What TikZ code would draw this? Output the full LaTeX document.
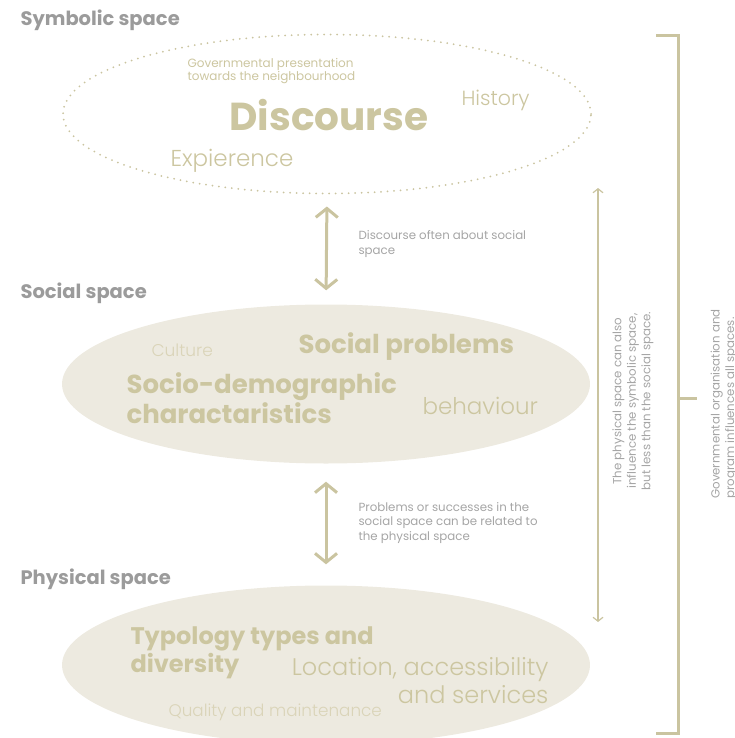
\documentclass[tikz,border=0pt]{standalone}
\usepackage{fontspec}
\setmainfont{Poppins}
\newfontfamily\thinfont{Poppins Light}
\usetikzlibrary{shapes.geometric,arrows.meta}
\definecolor{spacegray}{RGB}{155,155,155}
\definecolor{notegray}{RGB}{165,165,165}
\definecolor{sand}{RGB}{204,198,160}
\definecolor{palesand}{RGB}{218,212,184}
\definecolor{shell}{RGB}{237,234,224}
\definecolor{rope}{RGB}{202,196,160}
\tikzset{
  spacelabel/.style={anchor=west, text=spacegray, font=\bfseries\fontsize{19.5}{22}\selectfont},
  blob/.style={ellipse, inner sep=0pt, minimum width=528pt, minimum height=159pt},
  note/.style={anchor=west, align=left, text=notegray, font=\fontsize{11.8}{14.5}\selectfont},
  keyword/.style={anchor=west, align=left, text=sand, font=\bfseries\fontsize{26}{30}\selectfont},
  minor/.style={anchor=west, align=left, text=sand, font=\thinfont\fontsize{23}{28}\selectfont},
  link/.style={draw=rope, line width=3pt, {Straight Barb[length=9pt,width=22pt]}-{Straight Barb[length=9pt,width=22pt]}},
  thinlink/.style={draw=rope, line width=1.2pt, {Straight Barb[length=4pt,width=10pt]}-{Straight Barb[length=4pt,width=10pt]}}
}
\begin{document}
\begin{tikzpicture}[x=1pt,y=1pt]
\useasboundingbox (0,0) rectangle (734,-738);
% symbolic space
\node[spacelabel] (symlbl) at (17,-20) {Symbolic space};
\node[blob, draw=rope, line width=2pt, line cap=round, dash pattern=on 0pt off 6.5pt] (sym) at (327,-114) {};
\node[note, text=sand, font=\fontsize{12}{13.5}\selectfont] (gov) at (184,-71) {Governmental presentation\\towards the neighbourhood};
\node[keyword, font=\bfseries\fontsize{39}{40}\selectfont] (disc) at (226,-115) {Discourse};
\node[minor, font=\thinfont\fontsize{20.5}{22}\selectfont] (hist) at (458,-100) {History};
\node[minor] (exp) at (167,-161) {Expierence};
% social space
\node[spacelabel] (soclbl) at (17,-293) {Social space};
\node[blob, fill=shell] (soc) at (326,-384) {};
\node[minor, text=palesand, font=\thinfont\fontsize{17}{18}\selectfont] (cult) at (148,-350) {Culture};
\node[keyword] (prob) at (295,-347) {Social problems};
\node[keyword] (demo) at (123,-398) {Socio-demographic\\charactaristics};
\node[minor] (behav) at (419,-406) {behaviour};
% physical space
\node[spacelabel] (phylbl) at (17,-579) {Physical space};
\node[blob, fill=shell] (phy) at (326,-665) {};
\node[keyword, font=\bfseries\fontsize{24}{28}\selectfont] (typo) at (127,-653) {Typology types and\\diversity};
\node[minor, align=right, anchor=east, font=\thinfont\fontsize{24}{28}\selectfont] (loc) at (552,-681) {Location, accessibility\\and services};
\node[minor, text=palesand, font=\thinfont\fontsize{16.8}{18}\selectfont] (qual) at (165,-712) {Quality and maintenance};
% links between spaces
\draw[link, shorten <=12pt, shorten >=14pt] (sym.south) -- (soc.north);
\node[note] (n1) at (355,-244) {Discourse often about social\\space};
\draw[link, shorten <=18pt, shorten >=21pt] (soc.south) -- (phy.north);
\node[note] (n2) at (355,-523) {Problems or successes in the\\social space can be related to\\the physical space};
% physical to symbolic
\coordinate (upper) at (598,-188);
\coordinate (lower) at (598,-622);
\draw[thinlink] (upper) -- (lower);
\node[note, rotate=90, anchor=center, align=center] (n3) at (633,-401) {The physical space can also\\influence the symbolic space,\\but less than the social space.};
% governmental bracket
\coordinate (btop) at (656,-36);
\coordinate (bbot) at (656,-733);
\draw[rope, line width=3pt] (btop) -| (678,-398) |- (bbot);
\draw[rope, line width=3pt] (678,-398) -- (697,-398);
\node[note, rotate=90, anchor=north, align=left] (n4) at (707,-404) {Governmental organisation and\\program influences all spaces.};
\end{tikzpicture}
\end{document}
